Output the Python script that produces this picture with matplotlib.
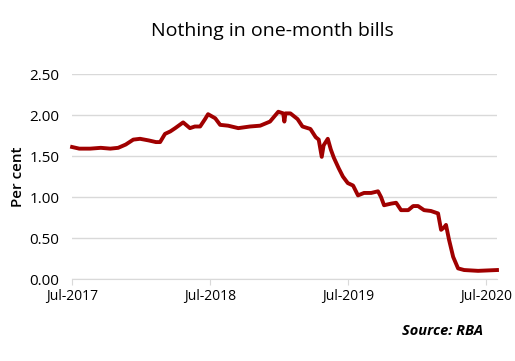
import matplotlib
matplotlib.use("Agg")
import matplotlib.pyplot as plt
import matplotlib.dates as mdates
import pandas as pd

# one-month bill yields
dates = [
    "2017-07-01", "2017-07-20", "2017-08-18", "2017-09-15", "2017-10-10",
    "2017-10-31", "2017-11-20", "2017-12-10", "2017-12-28", "2018-01-20",
    "2018-02-08", "2018-02-19", "2018-03-04", "2018-03-18", "2018-03-31",
    "2018-04-21", "2018-05-09", "2018-05-22", "2018-06-05", "2018-06-18",
    "2018-06-26", "2018-07-15", "2018-07-28", "2018-08-18", "2018-09-14",
    "2018-10-15", "2018-11-11", "2018-12-07", "2018-12-29", "2019-01-11",
    "2019-01-14", "2019-01-17", "2019-01-30", "2019-02-18", "2019-03-03",
    "2019-03-24", "2019-04-07", "2019-04-15", "2019-04-23", "2019-04-28",
    "2019-05-09", "2019-05-17", "2019-05-25", "2019-06-07", "2019-06-18",
    "2019-07-01", "2019-07-15", "2019-07-28", "2019-08-13", "2019-09-01",
    "2019-09-19", "2019-09-27", "2019-10-05", "2019-10-24", "2019-11-06",
    "2019-11-19", "2019-12-08", "2019-12-21", "2020-01-03", "2020-01-19",
    "2020-02-06", "2020-02-25", "2020-03-04", "2020-03-12", "2020-03-17",
    "2020-03-25", "2020-04-05", "2020-04-18", "2020-05-04", "2020-06-10",
    "2020-07-30",
]
values = [
    1.61, 1.59, 1.59, 1.60, 1.59,
    1.60, 1.64, 1.70, 1.71, 1.69,
    1.67, 1.67, 1.77, 1.80, 1.84,
    1.91, 1.84, 1.86, 1.86, 1.95,
    2.01, 1.96, 1.88, 1.87, 1.84,
    1.86, 1.87, 1.92, 2.04, 2.02,
    1.92, 2.02, 2.02, 1.95, 1.86,
    1.83, 1.73, 1.70, 1.49, 1.63,
    1.71, 1.58, 1.48, 1.35, 1.25,
    1.17, 1.14, 1.02, 1.05, 1.05,
    1.07, 1.00, 0.90, 0.92, 0.93,
    0.84, 0.84, 0.89, 0.89, 0.84,
    0.83, 0.80, 0.60, 0.63, 0.66,
    0.48, 0.27, 0.13, 0.11, 0.10,
    0.11,
]
yticks = [0.0, 0.5, 1.0, 1.5, 2.0, 2.5]
xticks = ["2017-07-01", "2018-07-01", "2019-07-01", "2020-07-01"]

plt.rcParams['font.family'] = ['Open Sans', 'DejaVu Sans']

fig = plt.figure(figsize=(5.15, 3.61), dpi=100)
ax = fig.add_axes([0.14, 0.227, 0.825, 0.568])

ax.plot(pd.to_datetime(dates), values, color='#a00000', lw=2.8,
        solid_joinstyle='round', clip_on=False)

ax.set_ylim(0, 2.5)
ax.set_yticks(yticks)
ax.set_yticklabels(["%.2f" % v for v in yticks], fontsize=11)
ax.set_xlim(pd.Timestamp("2017-07-01"), pd.Timestamp("2020-07-30"))
ax.set_xticks(pd.to_datetime(xticks))
ax.xaxis.set_major_formatter(mdates.DateFormatter("%b-%Y"))
for lab in ax.get_xticklabels():
    lab.set_fontsize(10)

ax.grid(axis='y', color='#d9d9d9', lw=1)
ax.set_axisbelow(True)
for s in ['top', 'right', 'left']:
    ax.spines[s].set_visible(False)
ax.spines['bottom'].set_color('#d9d9d9')
ax.tick_params(axis='y', length=0, pad=9)
ax.tick_params(axis='x', length=4, color='#d9d9d9', pad=3)

ax.set_ylabel("Per cent", fontsize=11, fontweight='semibold', labelpad=3)
fig.text(0.528, 0.915, "Nothing in one-month bills", fontsize=14,
         fontweight='medium', ha='center', va='center')
fig.text(0.938, 0.083, "Source: RBA", fontsize=10.5, fontweight='bold',
         style='italic', ha='right', va='center')

fig.savefig("out.png", dpi=100)
